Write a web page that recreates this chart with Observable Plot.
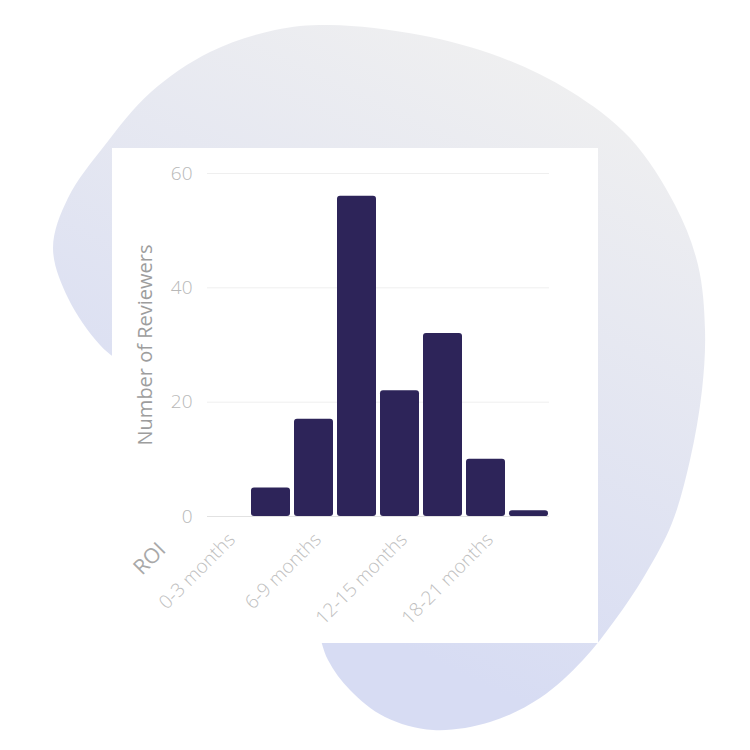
<!DOCTYPE html>
<html>
<head>
<meta charset="utf-8">
<script src="https://cdn.jsdelivr.net/npm/d3@7"></script>
<script src="https://cdn.jsdelivr.net/npm/@observablehq/plot@0.6"></script>
<style>
  html, body { margin: 0; padding: 0; background: #ffffff; }
  #wrap { position: relative; width: 750px; height: 750px; overflow: hidden; }
  #bg { position: absolute; left: 0; top: 0; }
  #chart { position: absolute; left: 0; top: 0; }
</style>
</head>
<body>
<div id="wrap">
  <svg id="bg" width="750" height="750"></svg>
  <div id="chart"></div>
</div>
<script>
// ---- data ----
const categories = ["0-3 months", "3-6 months", "6-9 months", "9-12 months", "12-15 months", "15-18 months", "18-21 months", "21-24 months"];
const reviewers = [0, 5, 17, 56, 22, 32, 10, 1];
const yTicks = [0, 20, 40, 60];
const xTickLabels = ["0-3 months", "6-9 months", "12-15 months", "18-21 months"];
const yLabel = "Number of Reviewers";
const xLabel = "ROI";

const data = categories.map((c, i) => ({roi: c, n: reviewers[i]}));

// ---- decorative background blob + white card ----
const bg = d3.select("#bg");
const defs = bg.append("defs");
const grad = defs.append("linearGradient")
  .attr("id", "blobGrad")
  .attr("x1", 0.7).attr("y1", 0).attr("x2", 0.35).attr("y2", 0.8);
grad.append("stop").attr("offset", 0).attr("stop-color", "#f0f0f0");
grad.append("stop").attr("offset", 1).attr("stop-color", "#d7dcf3");

const blobPts = [
  [330,25],[420,35],[500,57],[570,91],[630,138],[675,205],[698,265],[705,330],
  [702,390],[690,460],[672,523],[645,575],[615,620],[583,660],[540,698],[490,722],
  [433,730],[385,717],[350,690],[328,660],[316,625],[290,570],[200,440],[130,370],
  [100,345],[68,298],[53,248],[68,198],[105,145],[151,92],[210,52],[275,30]
];
bg.append("path")
  .attr("d", d3.line().curve(d3.curveCatmullRomClosed.alpha(0.5))(blobPts))
  .attr("fill", "url(#blobGrad)");
bg.append("rect")
  .attr("x", 112).attr("y", 148).attr("width", 486).attr("height", 495)
  .attr("fill", "#ffffff");

// ---- chart ----
const chart = Plot.plot({
  width: 750,
  height: 750,
  marginLeft: 207,
  marginRight: 201,
  marginTop: 173,
  marginBottom: 234,
  style: {background: "transparent", fontFamily: "'Open Sans', sans-serif"},
  x: {domain: categories, paddingInner: 0.1, paddingOuter: 0, label: null},
  y: {domain: [0, 60], label: null},
  marks: [
    Plot.gridY(yTicks, {stroke: "#efefef", strokeOpacity: 1}),
    Plot.ruleY([0], {stroke: "#e2e2e2"}),
    Plot.barY(data, {x: "roi", y: "n", fill: "#2d2459", rx: 3}),
    Plot.axisY({ticks: yTicks, tickSize: 0, tickPadding: 15, fontSize: 19, fontWeight: 300, color: "#b8b8b8", label: null}),
    Plot.axisX({ticks: xTickLabels, tickSize: 0, tickPadding: 20, dx: 4, tickRotate: -45, fontSize: 19, fontWeight: 300, color: "#c0c0c0", label: null}),
    Plot.text([yLabel], {text: d => d, frameAnchor: "left", textAnchor: "middle", dx: -62, rotate: -90, fontSize: 20, fill: "#9d9d9d"}),
    Plot.text([xLabel], {text: d => d, frameAnchor: "bottom-left", textAnchor: "middle", dx: -53, dy: 47, rotate: -45, fontSize: 21, fill: "#a9a9a9"})
  ]
});
document.getElementById("chart").appendChild(chart);
</script>
</body>
</html>
